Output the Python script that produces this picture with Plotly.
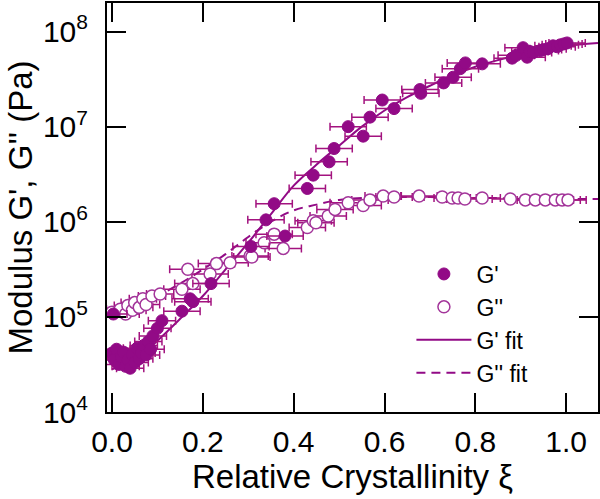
import plotly.graph_objects as go

# relative crystallinity and log10(modulus / Pa)
gp_xi = [0.000, 0.003, 0.005, 0.010, 0.015, 0.020, 0.025, 0.030, 0.035, 0.040,
         0.045, 0.050, 0.055, 0.060, 0.065, 0.070, 0.075, 0.080, 0.085, 0.090,
         0.100, 0.110, 0.154, 0.172, 0.178, 0.218, 0.306, 0.339, 0.357, 0.381,
         0.430, 0.443, 0.478, 0.489, 0.520, 0.553, 0.568, 0.595, 0.621, 0.678,
         0.680, 0.730, 0.751, 0.767, 0.778, 0.815, 0.881, 0.890, 0.905, 0.914,
         0.920, 0.928, 0.943, 0.950, 0.960, 0.971, 0.980, 0.987, 0.995, 1.002]
gp_log = [4.62, 5.03, 4.55, 4.66, 4.50, 4.58, 4.63, 4.48, 4.55, 4.46,
          4.60, 4.52, 4.67, 4.56, 4.62, 4.70, 4.60, 4.74, 4.66, 4.80,
          4.88, 4.96, 5.06, 5.19, 5.16, 5.35, 5.74, 6.02, 6.19, 5.85,
          6.35, 6.49, 6.63, 6.77, 7.00, 6.90, 7.10, 7.28, 7.19, 7.39,
          7.35, 7.46, 7.52, 7.61, 7.67, 7.66, 7.72, 7.75, 7.83, 7.73,
          7.79, 7.78, 7.80, 7.81, 7.82, 7.85, 7.84, 7.86, 7.87, 7.88]
gp_err = [0.03] * 22 + [0.04] * 38

gpp_xi = [0.000, 0.018, 0.030, 0.035, 0.045, 0.050, 0.060, 0.068, 0.075, 0.088,
          0.106, 0.154, 0.167, 0.178, 0.216, 0.230, 0.260, 0.304, 0.308, 0.335,
          0.357, 0.377, 0.430, 0.443, 0.449, 0.476, 0.491, 0.520, 0.553, 0.568,
          0.597, 0.621, 0.676, 0.727, 0.749, 0.762, 0.777, 0.815, 0.877, 0.910,
          0.932, 0.954, 0.976, 0.991, 1.004]
gpp_log = [5.05, 5.08, 5.03, 5.12, 5.07, 5.15, 5.10, 5.19, 5.13, 5.22,
           5.24, 5.29, 5.50, 5.35, 5.45, 5.56, 5.57, 5.64, 5.63, 5.78,
           5.87, 5.72, 5.94, 6.01, 5.99, 6.06, 6.13, 6.20, 6.17, 6.23,
           6.27, 6.26, 6.27, 6.26, 6.25, 6.25, 6.24, 6.25, 6.24, 6.23,
           6.23, 6.23, 6.23, 6.23, 6.23]
gpp_err = [0.03] * 11 + [0.04] * 34

fit_xi = [0.00, 0.05, 0.10, 0.15, 0.20, 0.25, 0.30, 0.35, 0.40, 0.45, 0.50,
          0.55, 0.60, 0.65, 0.70, 0.75, 0.80, 0.85, 0.90, 0.95, 1.00, 1.07]
gp_fit_log = [4.45, 4.55, 4.75, 4.98, 5.22, 5.50, 5.78, 6.08, 6.38, 6.60, 6.80,
              7.00, 7.17, 7.31, 7.43, 7.54, 7.63, 7.70, 7.76, 7.81, 7.85, 7.88]
gpp_fit_log = [5.05, 5.12, 5.22, 5.35, 5.50, 5.66, 5.84, 6.00, 6.12, 6.18, 6.23,
               6.25, 6.26, 6.26, 6.26, 6.25, 6.25, 6.25, 6.24, 6.24, 6.24, 6.24]

x_ticks = [0.0, 0.2, 0.4, 0.6, 0.8, 1.0]
x_ticktext = ["0.0", "0.2", "0.4", "0.6", "0.8", "1.0"]
y_ticks = [1e4, 1e5, 1e6, 1e7, 1e8]
y_ticktext = ["10<sup>4</sup>", "10<sup>5</sup>", "10<sup>6</sup>", "10<sup>7</sup>", "10<sup>8</sup>"]

purple = "#920a86"
open_purple = "#a3359a"
bar_col = "#a3137f"
font = "Liberation Sans, Arial, sans-serif"

fig = go.Figure()

fig.add_trace(go.Scatter(x=fit_xi, y=[10 ** v for v in gp_fit_log], mode="lines",
                         line=dict(color=purple, width=2, shape="spline"),
                         name="G' fit", legendrank=3))
fig.add_trace(go.Scatter(x=fit_xi, y=[10 ** v for v in gpp_fit_log], mode="lines",
                         line=dict(color=purple, width=2, shape="spline", dash="9px,6px"),
                         name="G'' fit", legendrank=4))

fig.add_trace(go.Scatter(x=gpp_xi, y=[10 ** v for v in gpp_log], mode="markers",
                         marker=dict(symbol="circle", size=12, color="white",
                                     line=dict(color=open_purple, width=1.5)),
                         error_x=dict(type="data", array=gpp_err, color=bar_col,
                                      thickness=1.5, width=4),
                         name="G''", legendrank=2))
fig.add_trace(go.Scatter(x=gp_xi, y=[10 ** v for v in gp_log], mode="markers",
                         marker=dict(symbol="circle", size=12, color=purple,
                                     line=dict(color=purple, width=1)),
                         error_x=dict(type="data", array=gp_err, color=bar_col,
                                      thickness=1.5, width=4),
                         name="G'", legendrank=1))

axis_common = dict(showline=True, linecolor="black", linewidth=2, mirror="ticks",
                   ticks="inside", ticklen=19, tickwidth=2, tickcolor="black",
                   showgrid=False, zeroline=False, automargin=False,
                   tickfont=dict(family=font, size=30, color="black"))

fig.update_xaxes(range=[-0.011, 1.07], tickvals=x_ticks, ticktext=x_ticktext,
                 ticklabelstandoff=2,
                 title=dict(text="Relative Crystallinity ξ", standoff=0,
                            font=dict(family=font, size=33, color="black")),
                 **axis_common)
fig.update_yaxes(type="log", range=[4.0, 8.3], tickvals=y_ticks, ticktext=y_ticktext,
                 ticklabelstandoff=11,
                 title=dict(text="Modulus G', G'' (Pa)", standoff=0,
                            font=dict(family=font, size=33, color="black")),
                 **axis_common)

fig.update_layout(
    width=600, height=499,
    margin=dict(l=107, r=2, t=3, b=87),
    plot_bgcolor="white", paper_bgcolor="white",
    legend=dict(x=0.62, y=0.39, xanchor="left", yanchor="top",
                font=dict(family=font, size=23, color="black"),
                bgcolor="rgba(0,0,0,0)", itemwidth=55, tracegroupgap=0),
)

# drop the browser's default 8px body margin so the figure sits at the page corner
fig.write_html("out.html", config={"displayModeBar": False},
               post_script="document.body.style.margin = '0';")
